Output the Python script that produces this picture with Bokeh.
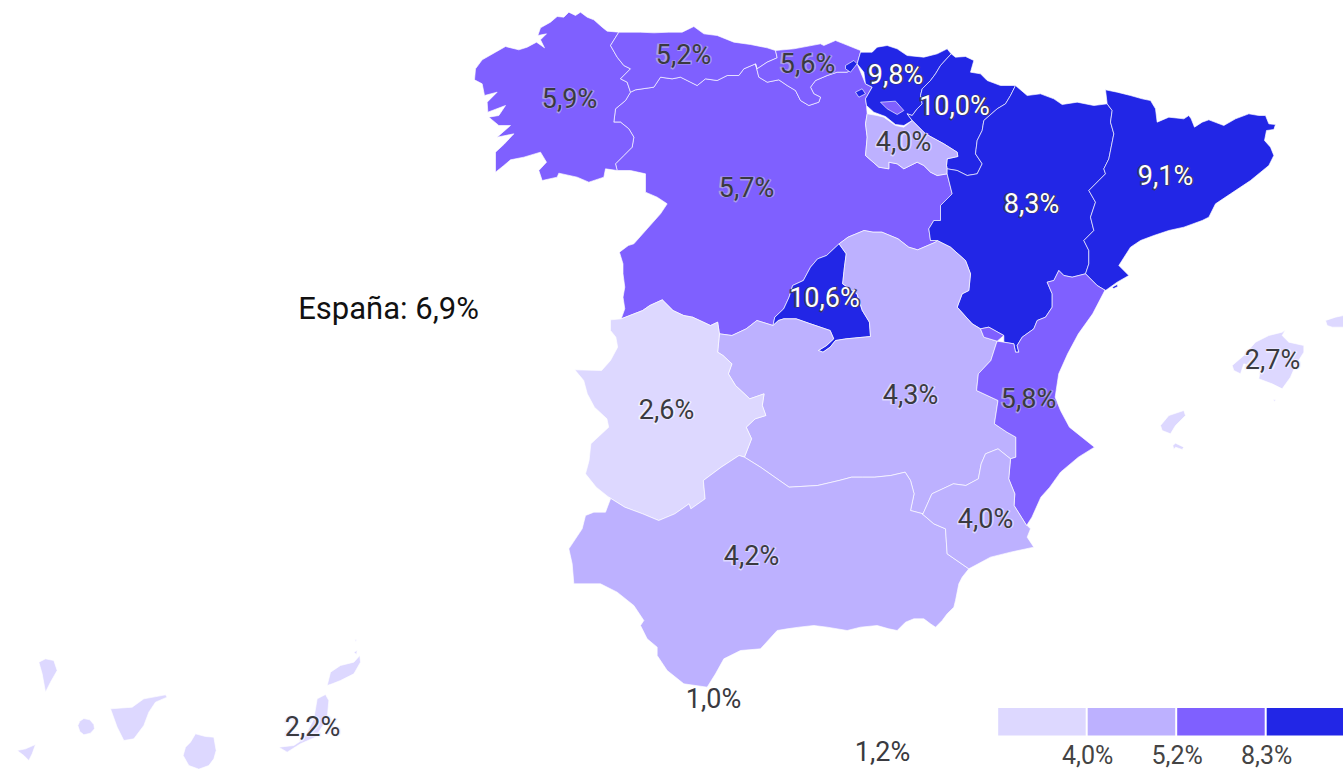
from bisect import bisect_right
from bokeh.plotting import figure
from bokeh.models import Range1d, ColumnDataSource
from bokeh.core.properties import value
from bokeh.embed import file_html
from bokeh.resources import INLINE

# ---- values -------------------------------------------------------------
REGIONS = ["Galicia", "Asturias", "Cantabria", "Pais Vasco", "Navarra", "La Rioja", "Aragon", "Cataluna",
           "Castilla y Leon", "Madrid", "Castilla-La Mancha", "Valencia", "Extremadura", "Andalucia",
           "Murcia", "Baleares", "Canarias"]
RATES = [5.9, 5.2, 5.6, 9.8, 10.0, 4.0, 8.3, 9.1, 5.7, 10.6, 4.3, 5.8, 2.6, 4.2, 4.0, 2.7, 2.2]
RATE_LABELS = ["5,9%", "5,2%", "5,6%", "9,8%", "10,0%", "4,0%", "8,3%", "9,1%", "5,7%", "10,6%", "4,3%",
               "5,8%", "2,6%", "4,2%", "4,0%", "2,7%", "2,2%"]
LABEL_X = [569, 683, 807, 895, 954, 903, 1031, 1165, 746, 824, 910, 1028, 666, 751, 985, 1272, 312]
LABEL_Y = [98, 54, 63, 74, 105, 141, 203, 175, 187, 297, 394, 398, 409, 555, 518, 359, 726]
CITY_LABELS = ["1,0%", "1,2%"]      # Ceuta, Melilla
CITY_X = [713, 882]
CITY_Y = [698, 751]
TOTAL_LABEL = "España: 6,9%"
BREAKS = [4.0, 5.2, 8.3]
BREAK_LABELS = ["4,0%", "5,2%", "8,3%"]
COLORS = ["#DDD8FF", "#BDB1FF", "#7F60FF", "#2226E6"]

# ---- outlines in crop coordinates ---------------------------------------
def A(pts): return [(460 + x / 3, y / 3) for x, y in pts]
def B(pts): return [(840 + x / 3, 30 + y / 3) for x, y in pts]
def C(pts): return [(560 + x / 2.8, 230 + y / 3) for x, y in pts]
def D(pts): return [(560 + x / 3, 450 + y / 3) for x, y in pts]
def E(pts): return [(x / 3, 630 + y / 3) for x, y in pts]
def F(pts): return [(1140 + x / 3, 300 + y / 3) for x, y in pts]
def rev(c): return c[::-1]

G_coast = A([(475,95),(440,92),(425,80),(400,58),(380,50),(360,35),(345,45),(325,35),(310,50),(290,48),(270,65),(240,82),(232,105),(258,100),(240,118),(252,142),(228,125),(200,140),(175,148),(135,138),(105,155),(65,178),(45,205),(42,238),(65,250),(72,285),(110,275),(80,305),(82,335),(135,315),(115,345),(85,350),(115,375),(150,375),(110,410),(160,400),(130,432),(105,455),(105,515),(130,495),(150,478),(190,470),(240,455),(258,485),(235,510),(245,540),(290,530),(295,518),(350,530),(385,545),(430,530),(435,505),(470,510)])
G_CyL = A([(470,510),(465,490),(490,465),(515,440),(520,410),(505,385),(480,365),(460,365),(465,325),(495,300),(510,275)])
G_Ast = A([(510,275),(500,245),(480,235),(510,205),(490,195),(470,170),(450,135),(475,95)])
Ast_coast = A([(475,95),(540,95),(580,97),(625,95),(665,95),(700,78),(730,100),(770,105),(820,125),(870,132),(920,142),(945,150)])
Ast_Cant = A([(945,150),(950,172),(920,185),(890,205),(885,190)])
Ast_CyL = A([(885,190),(850,205),(835,225),(800,225),(770,240),(735,235),(710,255),(690,245),(660,230),(635,235),(600,230),(580,260),(525,268),(510,275)])
Cant_coast = A([(945,150),(1000,145),(1080,130),(1090,135),(1125,120),(1150,130),(1200,150)])
Cant_PV = B([(60,65),(50,100)])
Cant_CyL = A([(1190,190),(1160,215),(1130,215),(1100,225),(1065,240),(1050,260),(1060,280),(1080,290),(1075,305),(1045,315),(1020,300),(1005,270),(980,255),(955,238),(920,245),(895,230),(885,190)])
PV_coast = B([(60,65),(95,65),(110,50),(140,45),(170,55),(200,75),(250,80),(290,70),(320,55),(332,70)])
PV_Nav = B([(332,70),(300,105),(285,130),(270,150),(245,175),(240,195),(245,220),(230,235),(215,255),(200,250),(215,270)])
PV_S = B([(215,270),(190,285),(165,282),(135,258),(100,245),(78,225),(75,205),(95,170),(75,160),(70,125),(50,100),(60,65)])
Nav_coast = B([(332,70),(345,80),(375,78),(400,90),(390,125),(420,130),(440,150),(480,165),(525,165)])
Nav_Ar = B([(525,165),(510,195),(495,220),(470,235),(430,270),(425,300),(410,330),(405,370),(425,400),(410,430),(380,435),(350,420),(320,415)])
Rioja_PV = B([(80,250),(110,255),(130,260),(165,285),(190,290),(215,270)])
Rioja_Nav = B([(215,270),(255,310),(310,340),(350,365),(352,378),(320,385),(318,405),(320,415)])
Rioja_S = B([(320,415),(320,430),(290,435),(270,425),(250,405),(230,395),(190,415),(170,400),(145,395),(145,415),(115,410),(75,375),(80,320),(75,280),(80,250)])
Ar_Pyr = B([(525,165),(560,195),(600,190),(640,205),(665,222),(710,215),(760,225),(800,220)])
Ar_Cat = B([(800,220),(815,240),(810,275),(820,310),(805,385),(790,415),(795,430),(745,480),(765,515),(750,560),(760,600),(730,630),(745,660),(745,700),(735,730)])
Val_Cat = B([(795,780),(770,765),(735,730)])
Ar_Val = B([(735,730),(695,740),(670,735),(655,720),(640,750),(620,755),(635,790),(635,830),(615,860),(590,870),(580,895),(545,920),(530,945),(535,965),(525,965),(520,940),(490,935)])
Rincon_top = B([(490,915),(445,890),(420,895)])
Rincon_low = B([(420,895),(430,920),(470,932)])
CLM_Ar = B([(290,630),(330,650),(375,690),(390,730),(385,780),(365,790),(350,830),(395,880),(420,895)])
Ar_CyL = B([(320,415),(320,430),(335,490),(300,525),(300,570),(280,570),(265,595),(270,630),(290,630)])
Cat_coast = B([(800,220),(795,178),(830,185),(870,195),(905,205),(930,210),(945,235),(950,275),(985,260),(1030,265),(1045,255),(1052,265),(1062,290),(1085,275),(1105,268),(1150,285),(1185,265),(1225,250),(1255,255),(1275,255),(1285,280),(1305,282),(1300,297),(1278,300),(1272,330),(1290,350),(1300,375),(1285,405),(1230,450),(1170,490),(1125,520),(1105,560),(1085,570),(1030,590),(985,600),(940,615),(900,630),(870,650),(835,705),(865,735),(830,755),(795,780)])
CLM_CyL_N = C([(1050,35),(1000,58),(975,50),(945,25),(900,5),(875,5),(850,0),(805,20),(780,40)])
Madrid_W = C([(780,40),(745,75),(720,85),(700,110),(680,150),(650,165),(640,200),(625,235),(600,260),(595,285)])
Madrid_SE = C([(595,285),(610,270),(625,265),(660,265),(700,280),(755,300),(765,325),(745,345),(722,360),(735,365),(755,350),(770,330),(800,325),(868,318),(865,275),(845,240),(830,190),(790,160),(795,110),(800,70),(780,40)])
CLM_CyL_S = C([(595,285),(550,270),(520,295),(480,315),(445,310)])
Ext_CyL = C([(445,310),(440,275),(420,285),(370,260),(345,255),(315,240),(285,208),(250,225),(230,240),(170,265)])
Port_CyL = C([(170,265),(180,235),(175,200),(180,170),(175,130),(175,100),(165,65),(190,45)]) + A([(520,730),(560,685),(600,640),(620,610),(590,590),(555,575),(555,520),(510,510),(470,510)])
Val_CLM = C([(1220,340),(1205,390),(1170,430),(1165,480),(1225,510),(1215,580),(1250,605),(1275,620),(1275,680),(1260,685)])
Mur_CLM = C([(1260,685),(1225,655),(1190,670),(1178,700),(1170,745),(1135,765),(1100,760),(1040,790),(1015,850)])
Mur_Val = C([(1260,685),(1255,745),(1272,790),(1270,825),(1305,885)])
Val_coast = C([(1525,178),(1490,250),(1450,310),(1420,370),(1395,430),(1385,500),(1400,540),(1425,590),(1460,620),(1495,650),(1450,680),(1400,725),(1370,770),(1345,800),(1320,860),(1305,885)])
CLM_And = C([(1015,850),(980,840),(990,790),(980,750),(965,725),(925,735),(880,740),(845,740),(815,740),(780,750),(720,765),(640,770),(600,740),(560,710),(515,680)])
CLM_Ext = C([(515,680),(535,625),(520,590),(545,565),(575,555),(565,525),(570,490),(530,505),(490,465),(470,430),(480,400),(455,375),(440,365),(445,310)])
Ext_Port = C([(170,265),(140,268),(140,300),(155,320),(160,350),(140,390),(115,420),(40,418),(65,450),(75,490),(95,530),(130,565),(135,590),(85,640),(80,690),(70,730),(100,770),(135,800)])
Ext_And = C([(135,800),(180,830),(230,850),(275,870),(320,850),(360,820),(365,835),(405,805),(400,750),(450,710),(500,675),(515,680)])
And_coast = D([(150,145),(135,185),(100,185),(75,195),(65,235),(25,295),(35,340),(40,400),(120,400),(170,425),(220,465),(250,510),(240,525),(260,565),(290,590),(290,615),(320,660),(370,700),(440,710),(465,670),(490,625),(540,600),(600,595),(650,540),(680,535),(715,530),(760,525),(800,530),(860,540),(900,530),(950,525),(985,535),(1010,540),(1035,515),(1060,505),(1090,505),(1110,520),(1125,530),(1145,510),(1160,490),(1180,470),(1185,450),(1195,400),(1205,380),(1225,355)])
And_Mur = D([(1225,355),(1160,310),(1155,235),(1120,220),(1085,190)])
Mur_coast = D([(1400,225),(1410,235),(1400,260),(1420,290),(1350,305),(1290,320),(1225,355)])

Shapes = {
    "Castilla y Leon": [rev(Ast_CyL) + rev(Cant_CyL) + B([(75,160),(95,170),(75,205),(78,225)]) + rev(Rioja_S) + Ar_CyL + CLM_CyL_N + Madrid_W + CLM_CyL_S + Ext_CyL + Port_CyL + G_CyL],
    "Galicia": [G_coast + G_CyL + G_Ast],
    "Asturias": [Ast_coast + Ast_Cant + Ast_CyL + G_Ast],
    "Cantabria": [Cant_coast + Cant_PV + Cant_CyL + rev(Ast_Cant)],
    "Pais Vasco": [PV_coast + PV_Nav + PV_S,
                   B([(15,105),(40,90),(50,100),(30,125),(15,115)]),
                   B([(45,185),(65,175),(75,190),(55,200)])],
    "Navarra": [Nav_coast + Nav_Ar + rev(Rioja_Nav) + rev(PV_Nav), B([(445,300),(460,285),(472,298),(460,295),(450,307)])],
    "La Rioja": [Rioja_PV + Rioja_Nav + Rioja_S],
    "Aragon": [Ar_Pyr + Ar_Cat + Ar_Val + Rincon_top + rev(CLM_Ar) + rev(Ar_CyL) + rev(Nav_Ar)],
    "Cataluna": [Cat_coast + Val_Cat + rev(Ar_Cat), B([(815,770),(830,762),(832,768),(820,774)])],
    "Castilla-La Mancha": [rev(CLM_CyL_N) + CLM_Ar + Rincon_low + Val_CLM + Mur_CLM + CLM_And + CLM_Ext + rev(CLM_CyL_S) + Madrid_SE],
    "Madrid": [Madrid_W + Madrid_SE],
    "Valencia": [Val_Cat + Ar_Val + Rincon_low[-1:] + Val_CLM + Mur_Val + rev(Val_coast),
                 rev(Rincon_top) + rev(Rincon_low)],
    "Extremadura": [Ext_Port + Ext_And + CLM_Ext + Ext_CyL],
    "Andalucia": [Ext_And + rev(CLM_And) + rev(And_Mur) + rev(And_coast)],
    "Murcia": [Mur_Val + Mur_coast + And_Mur + rev(Mur_CLM)],
    "Baleares": [F([(275,195),(310,165),(345,125),(385,105),(425,95),(435,88),(425,105),(445,125),(490,135),(490,155),(465,195),(450,230),(425,265),(395,250),(355,235),(360,205),(310,190),(300,220),(280,210)]),
                 F([(555,60),(585,50),(609,45),(609,80),(575,80),(560,75)]),
                 F([(60,375),(85,345),(130,330),(135,345),(105,375),(90,400),(65,390)]),
                 F([(97,435),(105,428),(130,440),(125,447),(105,440),(100,447)]),
                 F([(398,298),(405,298),(403,304)])],
    "Canarias": [E([(115,95),(135,85),(160,90),(170,120),(150,155),(135,185),(125,130)]),
                 E([(50,360),(75,355),(105,342),(95,370),(85,390),(70,375)]),
                 E([(232,285),(238,272),(250,264),(268,268),(280,282),(282,295),(270,308),(250,313),(238,303)]),
                 E([(330,235),(395,230),(430,205),(495,193),(500,200),(465,215),(445,245),(430,285),(400,325),(370,330),(350,290)]),
                 E([(548,375),(555,350),(570,335),(585,310),(615,318),(640,320),(647,360),(640,385),(625,405),(595,416),(565,405)]),
                 E([(835,350),(880,345),(910,325),(940,265),(950,205),(975,192),(985,210),(980,265),(945,320),(900,340),(860,365)]),
                 E([(980,165),(990,125),(1020,105),(1060,95),(1078,75),(1080,95),(1060,130),(1020,150),(995,160)]),
                 E([(1060,65),(1070,60),(1068,72)]),
                 E([(1063,28),(1068,28),(1066,35)])],
}

# ---- build ---------------------------------------------------------------
def color_of(rate):
    return COLORS[bisect_right(BREAKS, rate)]

W, H = 1343, 769
p = figure(width=W, height=H, output_backend="svg", toolbar_location=None,
           x_range=Range1d(0, W), y_range=Range1d(H, 0),
           min_border=0, outline_line_color=None, background_fill_color="white")
p.axis.visible = False
p.grid.visible = False

rate_of = dict(zip(REGIONS, RATES))
order = ["Castilla y Leon"] + [r for r in REGIONS if r != "Castilla y Leon"]
xs, ys, fills = [], [], []
for name in order:
    for part in Shapes[name]:
        xs.append([q[0] for q in part])
        ys.append([q[1] for q in part])
        fills.append(color_of(rate_of[name]))
p.patches(xs, ys, fill_color=fills, line_color="#ffffff", line_alpha=0.65, line_width=1, line_join="round")
# Trevino enclave
trev = B([(120,215),(165,212),(190,240),(170,252),(140,235)])
p.patch([q[0] for q in trev], [q[1] for q in trev], fill_color=color_of(5.7), line_color="#ffffff", line_alpha=0.65, line_width=1)

# legend
LEG_X0, LEG_STEP, LEG_Y0, LEG_Y1 = 997.7, 89.5, 707.5, 735
lefts = [LEG_X0 + i * LEG_STEP for i in range(4)]
p.quad(left=lefts, right=[l + LEG_STEP - 2 for l in lefts], top=[LEG_Y0] * 4, bottom=[LEG_Y1] * 4,
       fill_color=COLORS, line_color=None)
font = value("Roboto")
p.text(x=lefts[1:], y=[755] * 3, text=BREAK_LABELS, text_font=font, text_font_size="25px",
       text_color="#444444", text_align="center", text_baseline="middle")

# labels: a halo under the figures, then the figures
src = ColumnDataSource(dict(x=LABEL_X, y=LABEL_Y, t=RATE_LABELS,
    c=["#ffffff" if r >= BREAKS[2] else "#3a3a40" for r in RATES],
    o=["#3a3a66" if r >= BREAKS[2] else "#f2f0ff" if r < BREAKS[0] else "#ddd8ff" if r < BREAKS[1] else "#a99cec" for r in RATES]))
p.text(x="x", y="y", text="t", source=src, text_font=font, text_font_size="27px", text_font_style="bold",
       text_color="o", text_outline_color="o", text_align="center", text_baseline="middle")
p.text(x="x", y="y", text="t", source=src, text_font=font, text_font_size="27px", text_color="c",
       text_align="center", text_baseline="middle")
p.text(x=CITY_X, y=CITY_Y, text=CITY_LABELS, text_font=font, text_font_size="27px", text_color="#3a3a40",
       text_align="center", text_baseline="middle")
p.text(x=[388], y=[308], text=[TOTAL_LABEL], text_font=font, text_font_size="31px", text_color="#111111",
       text_align="center", text_baseline="middle")

open("out.html", "w").write(file_html(p, INLINE))
